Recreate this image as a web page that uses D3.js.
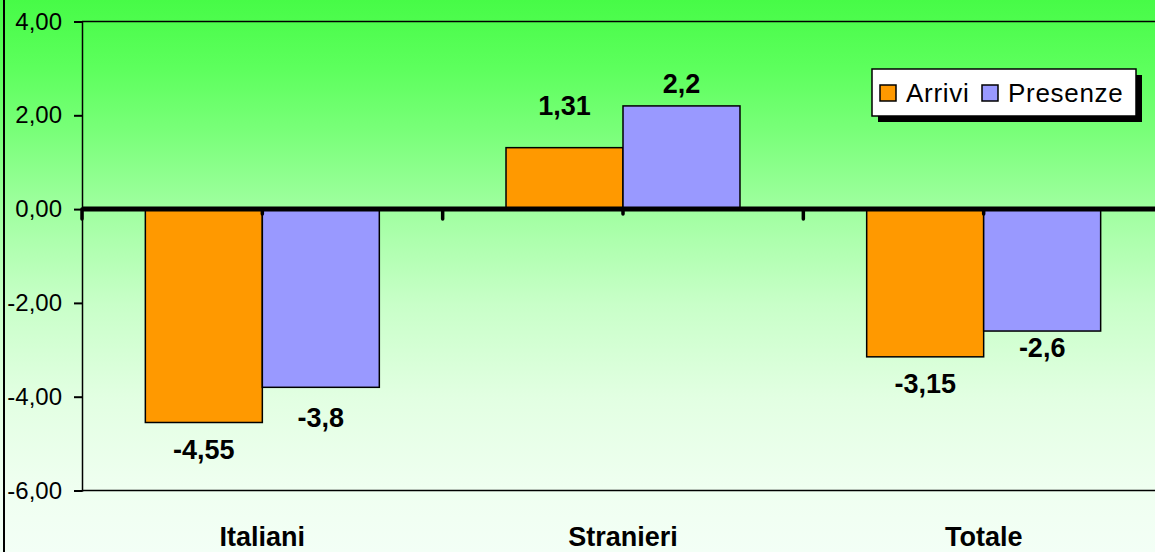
<!DOCTYPE html>
<html>
<head>
<meta charset="utf-8">
<script src="https://cdn.jsdelivr.net/npm/d3@7"></script>
<style>
html,body{margin:0;padding:0;background:#fff;overflow:hidden;}
svg{display:block;}
text{font-family:Arial,"Liberation Sans",sans-serif;}
</style>
</head>
<body>
<svg id="chart" width="1155" height="552"></svg>
<script>
const categories = ["Italiani", "Stranieri", "Totale"];
const seriesNames = ["Arrivi", "Presenze"];
const arrivi = [-4.55, 1.31, -3.15];
const presenze = [-3.8, 2.2, -2.6];
const arriviLabels = ["-4,55", "1,31", "-3,15"];
const presenzeLabels = ["-3,8", "2,2", "-2,6"];
const yTicks = [4, 2, 0, -2, -4, -6];
const yTickLabels = ["4,00", "2,00", "0,00", "-2,00", "-4,00", "-6,00"];
// small manual nudges of data labels (px), as in the original
const arriviLabelDy = [17, -33, 17];
const presenzeLabelDy = [20, -13, 7];

const colors = {Arrivi: "#ff9900", Presenze: "#9999ff"};

const svg = d3.select("#chart");
const W = 1155, H = 552;
const plot = {left: 82, top: 21.5, right: 1164, bottom: 490.5};

// background gradient
const defs = svg.append("defs");
const grad = defs.append("linearGradient").attr("id", "bg").attr("x1", 0).attr("y1", 0).attr("x2", 0).attr("y2", 1);
[[0, "#47fb47"], [0.12, "#5cff5c"], [0.25, "#7cff7c"], [0.38, "#a0ffa0"], [0.55, "#c8ffc8"], [0.72, "#e2ffe2"], [0.88, "#effff0"], [1, "#f3fff6"]]
  .forEach(([o, c]) => grad.append("stop").attr("offset", o).attr("stop-color", c));
svg.append("rect").attr("x", 0).attr("y", 0).attr("width", W).attr("height", H).attr("fill", "url(#bg)");

// chart area border (left edge visible)
svg.append("rect").attr("x", 4).attr("y", -20).attr("width", W + 40).attr("height", H + 40)
  .attr("fill", "none").attr("stroke", "#000").attr("stroke-width", 2);

const y = d3.scaleLinear().domain([-6, 4]).range([plot.bottom, plot.top]);
const x = d3.scaleBand().domain(categories).range([plot.left, plot.right]).padding(0);
const groupFrac = 234 / 360.7;
const xs = d3.scaleBand().domain(seriesNames)
  .range([x.bandwidth() * (1 - groupFrac) / 2, x.bandwidth() * (1 + groupFrac) / 2]).padding(0);

// plot area border lines (top and bottom)
svg.append("line").attr("x1", plot.left).attr("x2", W + 20).attr("y1", plot.top).attr("y2", plot.top)
  .attr("stroke", "#000").attr("stroke-width", 1.5);
svg.append("line").attr("x1", plot.left).attr("x2", W + 20).attr("y1", plot.bottom).attr("y2", plot.bottom)
  .attr("stroke", "#000").attr("stroke-width", 1.5);

// y axis
const yAxis = d3.axisLeft(y).tickValues(yTicks).tickSize(8).tickPadding(12)
  .tickFormat((d, i) => yTickLabels[i]);
const ya = svg.append("g").attr("transform", `translate(${plot.left},0)`).call(yAxis);
ya.select(".domain").attr("stroke", "#000").attr("stroke-width", 1.5);
ya.selectAll(".tick line").attr("stroke", "#000").attr("stroke-width", 2);
ya.selectAll(".tick text").attr("font-size", 24).attr("fill", "#000")
  .attr("font-family", "Arial, 'Liberation Sans', sans-serif");

// bars
const rows = categories.map((c, i) => ({cat: c, values: [
  {s: "Arrivi", v: arrivi[i], lab: arriviLabels[i], dy: arriviLabelDy[i]},
  {s: "Presenze", v: presenze[i], lab: presenzeLabels[i], dy: presenzeLabelDy[i]}]}));

const g = svg.selectAll("g.cat").data(rows).enter().append("g").attr("class", "cat")
  .attr("transform", d => `translate(${x(d.cat)},0)`);
g.selectAll("rect").data(d => d.values).enter().append("rect")
  .attr("x", d => xs(d.s)).attr("width", xs.bandwidth())
  .attr("y", d => y(Math.max(0, d.v))).attr("height", d => Math.abs(y(d.v) - y(0)))
  .attr("fill", d => colors[d.s]).attr("stroke", "#000").attr("stroke-width", 1.5);

// data labels
g.selectAll("text.lab").data(d => d.values).enter().append("text").attr("class", "lab")
  .attr("x", d => xs(d.s) + xs.bandwidth() / 2)
  .attr("y", d => y(d.v) + d.dy)
  .attr("dominant-baseline", d => d.v < 0 ? "hanging" : "alphabetic")
  .attr("text-anchor", "middle").attr("font-size", 27).attr("font-weight", "bold").attr("fill", "#000")
  .text(d => d.lab);

// zero line (category axis)
svg.append("line").attr("x1", plot.left).attr("x2", W + 20).attr("y1", y(0)).attr("y2", y(0))
  .attr("stroke", "#000").attr("stroke-width", 5);
// category ticks
const boundaries = categories.map(c => x(c));
svg.selectAll("line.btick").data(boundaries).enter().append("line").attr("class", "btick")
  .attr("x1", d => d).attr("x2", d => d).attr("y1", y(0)).attr("y2", y(0) + 10)
  .attr("stroke", "#000").attr("stroke-width", 3.5).attr("stroke-linecap", "round");
svg.selectAll("line.ctick").data(categories).enter().append("line").attr("class", "ctick")
  .attr("x1", d => x(d) + x.bandwidth() / 2).attr("x2", d => x(d) + x.bandwidth() / 2)
  .attr("y1", y(0)).attr("y2", y(0) + 5)
  .attr("stroke", "#000").attr("stroke-width", 3.5).attr("stroke-linecap", "round");

// category labels
svg.selectAll("text.cat").data(categories).enter().append("text").attr("class", "cat")
  .attr("x", d => x(d) + x.bandwidth() / 2).attr("y", 546)
  .attr("text-anchor", "middle").attr("font-size", 27).attr("font-weight", "bold").attr("fill", "#000")
  .text(d => d);

// legend
const leg = svg.append("g").attr("transform", "translate(872,69)");
leg.append("rect").attr("x", 6).attr("y", 6).attr("width", 264).attr("height", 47).attr("fill", "#000");
leg.append("rect").attr("x", 0).attr("y", 0).attr("width", 264).attr("height", 47)
  .attr("fill", "#fff").attr("stroke", "#000").attr("stroke-width", 1.5);
const legX = [8, 110];
seriesNames.forEach((s, i) => {
  leg.append("rect").attr("x", legX[i]).attr("y", 16).attr("width", 16).attr("height", 16)
    .attr("fill", colors[s]).attr("stroke", "#000").attr("stroke-width", 1.5);
  leg.append("text").attr("x", legX[i] + 26).attr("y", 33).attr("font-size", 26)
    .attr("letter-spacing", 0.7).attr("fill", "#000").text(s);
});
</script>
</body>
</html>
